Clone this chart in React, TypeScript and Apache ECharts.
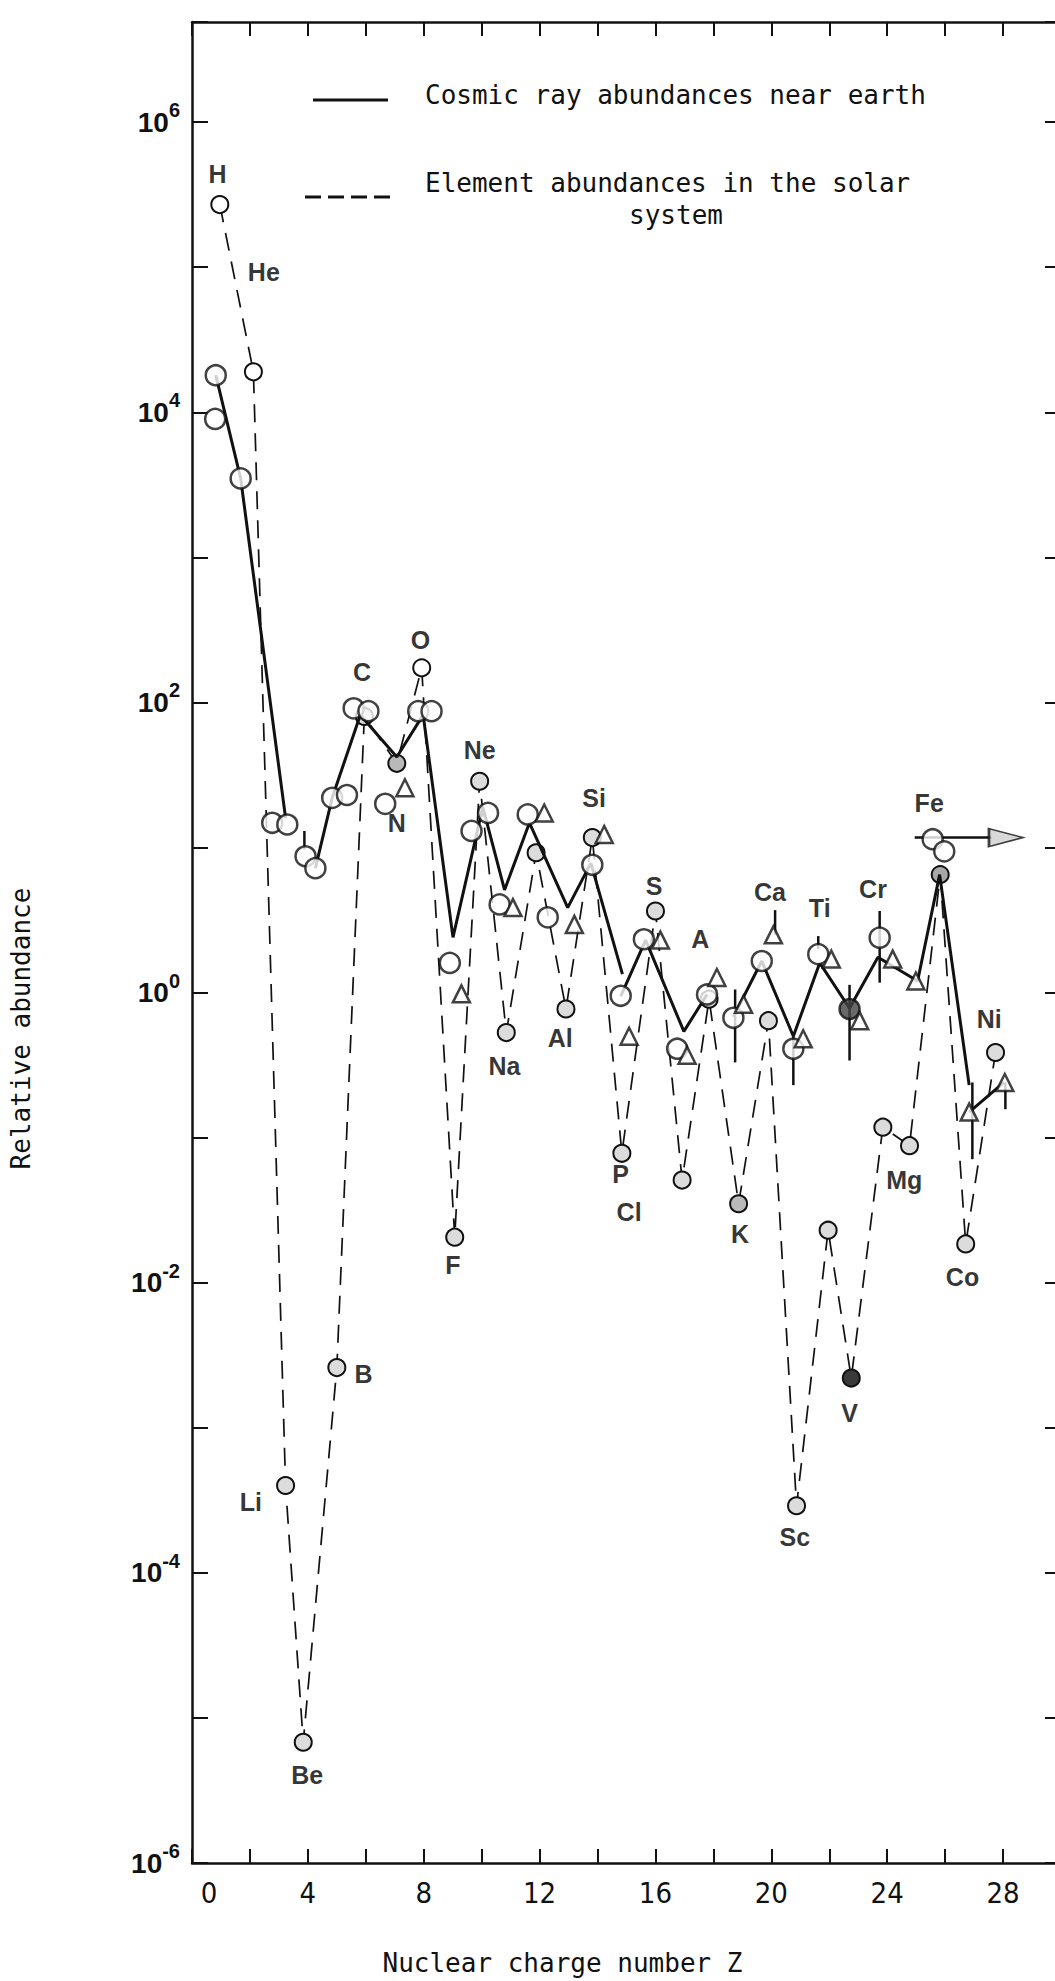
import React, { useEffect, useRef } from "react";
import * as echarts from "echarts";

// ---------- data ----------
const elementSymbols = ["H","He","Li","Be","B","C","N","O","F","Ne","Na","Mg","Al","Si","P","S","Cl","A","K","Ca","Sc","Ti","V","Cr","Mn","Fe","Co","Ni"];

// Element abundances in the solar system (dashed line)
const solarZ = [0.96,2.12,3.23,3.84,5.0,5.95,7.07,7.93,9.07,9.93,10.85,11.88,12.91,13.82,14.84,16.0,16.92,17.85,18.87,19.9,20.87,21.96,22.76,23.85,24.77,25.83,26.71,27.74];
const solarAbundance = [2.7e5,1.9e4,4.0e-4,6.8e-6,2.6e-3,80,38,173,0.0206,28.6,0.53,9.2,0.77,11.7,0.078,3.65,0.051,0.9,0.035,0.64,2.9e-4,0.023,2.2e-3,0.118,0.088,6.5,0.0185,0.386];

// Cosmic ray abundances near earth (solid line); null = gap in the line
const cosmicLineZ = [0.82,1.68,3.23,3.23,4.26,4.84,5.81,7.07,7.98,9.01,10.04,10.79,11.65,12.97,13.77,14.86,14.86,14.8,15.66,16.98,17.78,17.78,18.69,19.67,20.76,21.67,22.7,23.68,25.05,25.81,26.83,26.83,26.83,28.03];
const cosmicLineValue = [1.8e4,3.5e3,16,null,7.2,22,82,42,82,2.4,19,5.1,14.8,3.85,7.8,1.34,null,0.94,2.3,0.54,0.97,null,0.68,1.65,0.5,1.6,0.78,1.75,1.2,6.5,0.23,null,0.15,0.24];

// individual cosmic ray measurements: circles
const circleZ = [0.82,0.8,1.68,2.77,3.29,3.92,4.26,4.84,5.35,5.58,6.09,6.67,7.81,8.27,8.9,9.65,10.22,10.62,11.59,12.28,13.82,14.8,15.6,16.75,17.78,18.69,19.67,20.76,21.62,22.7,23.74,25.57,25.97];
const circleValue = [1.8e4,9.0e3,3.5e3,14.8,14.4,8.7,7.2,22,23,91,87,20,87,87,1.6,13,17.3,4.05,16.9,3.3,7.6,0.95,2.33,0.41,0.97,0.67,1.65,0.41,1.84,0.77,2.39,11.4,9.4];

// individual cosmic ray measurements: triangles
const triangleZ = [7.35,9.3,11.08,12.16,13.2,14.23,15.09,16.17,17.09,18.12,19.04,20.07,21.1,22.07,23.05,24.19,24.99,26.83,28.06];
const triangleValue = [25.8,0.98,3.85,17.3,2.95,12.3,0.5,2.3,0.37,1.27,0.83,2.5,0.48,1.7,0.64,1.7,1.2,0.15,0.24];

// error bars
const errorZ = [3.88,18.75,20.13,20.76,21.62,22.7,23.74,26.94,28.08];
const errorLow = [9.7,0.33,2.5,0.23,2.0,0.34,1.17,0.071,0.157];
const errorHigh = [13,1.05,3.7,0.5,2.45,1.13,3.65,0.24,0.24];

// Fe arrow (abundance level and Z span)
const feArrowValue = 11.7;
const feArrowFromZ = 24.95;
const feArrowToZ = 28.1;

// element labels: anchor Z and log10 height
const labelText = ["H","He","Li","Be","B","C","N","O","F","Ne","Na","Al","Si","P","Cl","S","A","K","Ca","Sc","Ti","V","Cr","Mg","Fe","Co","Ni"];
const labelZ = [0.88,2.48,2.03,3.98,5.92,5.87,7.07,7.89,9.01,9.93,10.79,12.71,13.88,14.8,15.09,15.95,17.55,18.92,19.95,20.81,21.67,22.7,23.51,24.59,25.45,26.6,27.52];
const labelLog = [5.64,4.97,-3.51,-5.39,-2.63,2.213,1.17,2.43,-1.88,1.674,-0.505,-0.312,1.342,-1.25,-1.514,0.734,0.367,-1.663,0.692,-3.75,0.585,-2.9,0.711,-1.29,1.308,-1.96,-0.184];

// axes
const xMin = 0, xMax = 30, xTickStep = 2, xLabelStep = 4;
const yMinExp = -6, yMaxExp = 6.69, yTickStep = 1, yLabelStep = 2;

const legendSolid = "Cosmic ray abundances near earth";
const legendDashed1 = "Element abundances in the solar";
const legendDashed2 = "system";
const xTitle = "Nuclear charge number Z";
const yTitle = "Relative abundance";

// ---------- chart ----------
const INK = "#111111";
const MONO = "'DejaVu Sans Mono', 'Liberation Mono', monospace";
const SANS = "'Liberation Sans', Arial, Helvetica, sans-serif";
const NARROW = "'Liberation Sans Narrow', 'DejaVu Sans Condensed', 'Liberation Sans', sans-serif";

const lg = (v: number) => Math.log10(v);

function solarFill(sym: string) {
  if (sym === "H" || sym === "He" || sym === "O") return "#ffffff";
  if (sym === "V") return "#3a3a3a";
  if (sym === "Fe") return "#a8a8a8";
  if (sym === "K" || sym === "N") return "#b9b9b9";
  return "#dcdcdc";
}

function buildOption(): any {
  const axisLine = { show: true, onZero: false, lineStyle: { color: INK, width: 2.5 } };
  const xCommon = {
    type: "value",
    min: xMin,
    max: xMax,
    interval: xTickStep,
    splitLine: { show: false },
    axisLine,
    axisTick: { show: true, inside: true, length: 14, lineStyle: { color: INK, width: 2 } },
  };
  const yCommon = {
    type: "value",
    min: yMinExp,
    max: yMaxExp,
    interval: yTickStep,
    splitLine: { show: false },
    axisLine,
    axisTick: { show: true, inside: true, length: 16, lineStyle: { color: INK, width: 2 } },
  };

  const series: any[] = [];

  series.push({
    type: "line",
    name: "solar",
    data: solarZ.map((z, i) => ({
      value: [z, lg(solarAbundance[i])],
      itemStyle: { color: solarFill(elementSymbols[i]) },
    })),
    symbol: "circle",
    symbolSize: 17,
    lineStyle: { color: INK, width: 1.7, type: [18, 11] },
    itemStyle: { borderColor: INK, borderWidth: 2 },
    z: 2,
  });

  series.push({
    type: "line",
    name: "cosmic",
    data: cosmicLineZ.map((z, i) => [z, cosmicLineValue[i] == null ? "-" : lg(cosmicLineValue[i] as number)]),
    symbol: "none",
    connectNulls: false,
    lineStyle: { color: INK, width: 3 },
    z: 3,
  });

  series.push({
    type: "custom",
    name: "errors",
    data: errorZ.map((z, i) => [z, lg(errorLow[i]), lg(errorHigh[i])]),
    encode: { x: 0, y: [1, 2] },
    renderItem: (params: any, api: any) => {
      const p1 = api.coord([api.value(0), api.value(1)]);
      const p2 = api.coord([api.value(0), api.value(2)]);
      return {
        type: "line",
        shape: { x1: p1[0], y1: p1[1], x2: p2[0], y2: p2[1] },
        style: { stroke: INK, lineWidth: 2.5 },
      };
    },
    z: 3,
  });

  series.push({
    type: "line",
    name: "feArrow",
    data: [[feArrowFromZ, lg(feArrowValue)], [feArrowToZ - 0.5, lg(feArrowValue)]],
    symbol: "none",
    lineStyle: { color: INK, width: 2.5 },
    z: 3,
  });
  series.push({
    type: "scatter",
    name: "feArrowHead",
    data: [[feArrowToZ, lg(feArrowValue)]],
    symbol: "triangle",
    symbolSize: [18, 34],
    symbolRotate: -90,
    itemStyle: { color: "#d0d0d0", borderColor: INK, borderWidth: 2 },
    z: 4,
  });

  series.push({
    type: "scatter",
    name: "circles",
    data: circleZ.map((z, i) => ({
      value: [z, lg(circleValue[i])],
      itemStyle: i === 29 ? { color: "#444" } : undefined,
    })),
    symbol: "circle",
    symbolSize: 20,
    itemStyle: { color: "#ffffff", borderColor: INK, borderWidth: 2.5 },
    z: 5,
  });

  series.push({
    type: "scatter",
    name: "triangles",
    data: triangleZ.map((z, i) => [z, lg(triangleValue[i])]),
    symbol: "triangle",
    symbolSize: 17,
    itemStyle: { color: "#ffffff", borderColor: INK, borderWidth: 2.5 },
    z: 5,
  });

  series.push({
    type: "scatter",
    name: "labels",
    silent: true,
    data: labelZ.map((z, i) => ({ value: [z, labelLog[i]], name: labelText[i] })),
    symbol: "circle",
    symbolSize: 0,
    itemStyle: { color: "transparent" },
    label: {
      show: true,
      position: "inside",
      formatter: "{b}",
      fontFamily: SANS,
      fontWeight: "bold",
      fontSize: 25,
      color: "#000",
    },
    z: 6,
  });

  return {
    animation: false,
    backgroundColor: "#ffffff",
    grid: { left: 191, right: 0, top: 22, bottom: 115 },
    xAxis: [
      {
        ...xCommon,
        position: "bottom",
        name: xTitle,
        nameLocation: "middle",
        nameGap: 87,
        nameTextStyle: { fontFamily: MONO, fontSize: 26, color: INK, padding: [0, 128, 0, 0] },
        axisLabel: {
          show: true,
          margin: 15,
          fontFamily: NARROW,
          fontSize: 29,
          color: INK,
          formatter: (v: number) => {
            if (Math.abs(v % xLabelStep) > 1e-9 || v > 28.5) return "";
            return v === 0 ? "{z|0}" : String(v);
          },
          rich: {
            z: { fontFamily: NARROW, fontSize: 29, color: INK, padding: [0, 0, 0, 34] },
          },
        },
      },
      { ...xCommon, position: "top", axisLabel: { show: false } },
    ],
    yAxis: [
      {
        ...yCommon,
        position: "left",
        name: yTitle,
        nameLocation: "middle",
        nameGap: 158,
        nameTextStyle: { fontFamily: MONO, fontSize: 26, color: INK, padding: [0, 172, 0, 0] },
        axisLabel: {
          show: true,
          margin: 12,
          formatter: (v: number) => {
            const n = Math.round(v);
            if (Math.abs(v - n) > 1e-6 || n % yLabelStep !== 0) return "";
            return `{b|10}{s|${n < 0 ? "-" + -n : n}}`;
          },
          rich: {
            b: { fontFamily: SANS, fontWeight: "bold", fontSize: 28, lineHeight: 44, color: INK },
            s: { fontFamily: SANS, fontWeight: "bold", fontSize: 20, lineHeight: 20, verticalAlign: "top", color: INK },
          },
        },
      },
      { ...yCommon, position: "right", axisLabel: { show: false } },
    ],
    graphic: [
      { type: "line", shape: { x1: 313, y1: 100, x2: 388, y2: 100 }, style: { stroke: INK, lineWidth: 3 } },
      {
        type: "text", x: 425, y: 95,
        style: { text: legendSolid, fontFamily: MONO, fontSize: 26, fill: INK, align: "left", verticalAlign: "middle" },
      },
      { type: "line", shape: { x1: 305, y1: 197, x2: 393, y2: 197 }, style: { stroke: INK, lineWidth: 3, lineDash: [16, 7] } },
      {
        type: "text", x: 425, y: 183,
        style: { text: legendDashed1, fontFamily: MONO, fontSize: 26, fill: INK, align: "left", verticalAlign: "middle" },
      },
      {
        type: "text", x: 676, y: 215,
        style: { text: legendDashed2, fontFamily: MONO, fontSize: 26, fill: INK, align: "center", verticalAlign: "middle" },
      },
    ],
    series,
  };
}

export default function App() {
  const ref = useRef<HTMLDivElement | null>(null);
  useEffect(() => {
    if (!ref.current) return;
    const chart = echarts.init(ref.current, undefined, { renderer: "svg" });
    chart.setOption(buildOption());
    return () => chart.dispose();
  }, []);
  return (
    <div
      style={{ position: "absolute", left: 0, top: 0, width: 1055, height: 1981, overflow: "hidden", background: "#fff" }}
    >
      <div ref={ref} style={{ width: 1064, height: 1981 }} />
    </div>
  );
}
